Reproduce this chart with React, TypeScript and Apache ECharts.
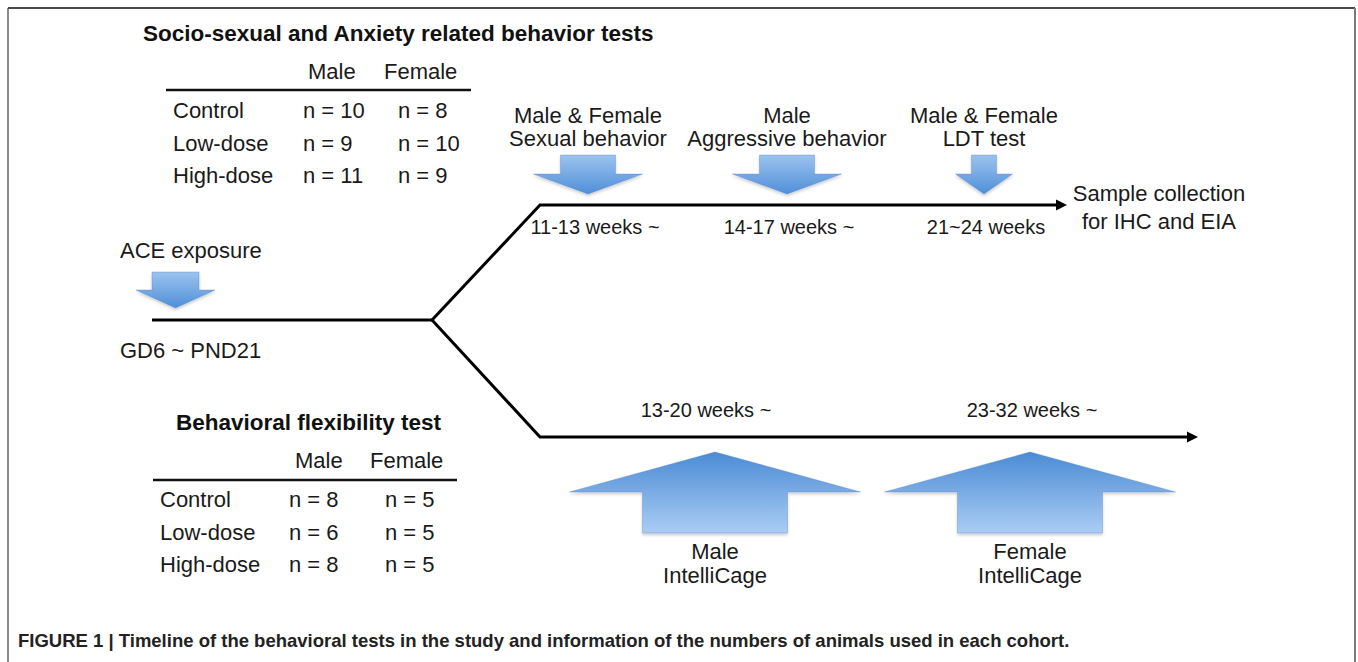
import React, { useEffect, useRef } from "react";
import * as echarts from "echarts";

// ---------- data ----------
const groups = ["Control", "Low-dose", "High-dose"];
const sexes = ["Male", "Female"];
const socioTitle = "Socio-sexual and Anxiety related behavior tests";
const socioMale = [10, 9, 11];
const socioFemale = [8, 10, 9];
const flexTitle = "Behavioral flexibility test";
const flexMale = [8, 6, 8];
const flexFemale = [5, 5, 5];

const upperEventLine1 = ["Male & Female", "Male", "Male & Female"];
const upperEventLine2 = ["Sexual behavior", "Aggressive behavior", "LDT test"];
const upperWeeks = ["11-13 weeks ~", "14-17 weeks ~", "21~24 weeks"];
const upperEnd = ["Sample collection", "for IHC and EIA"];

const lowerWeeks = ["13-20 weeks ~", "23-32 weeks ~"];
const lowerEventLine1 = ["Male", "Female"];
const lowerEventLine2 = ["IntelliCage", "IntelliCage"];

const exposureLabel = "ACE exposure";
const exposurePeriod = "GD6 ~ PND21";
const caption =
  "FIGURE 1 | Timeline of the behavioral tests in the study and information of the numbers of animals used in each cohort.";

// ---------- layout ----------
const FONT = "'Liberation Sans', Arial, Helvetica, sans-serif";
const TXT = "#1a1a1a";
const BODY = 22;
const TITLE = 22.5;
const WEEK = 20;

function txt(text: string, x: number, y: number, size: number, align = "center", bold = false, fill = TXT) {
  return {
    type: "text",
    x,
    y,
    silent: true,
    style: {
      text,
      font: `${bold ? "bold " : ""}${size}px ${FONT}`,
      fill,
      align,
      verticalAlign: "middle",
      textAlign: align,
      textVerticalAlign: "middle",
    },
  };
}

function downArrow(cx: number, top: number, base: number, tip: number, sh: number, hh: number) {
  return {
    type: "polygon",
    silent: true,
    shape: {
      points: [
        [cx - sh, top],
        [cx + sh, top],
        [cx + sh, base],
        [cx + hh, base],
        [cx, tip],
        [cx - hh, base],
        [cx - sh, base],
      ],
    },
    style: {
      fill: new echarts.graphic.LinearGradient(0, 0, 0, 1, [
        { offset: 0, color: "#9cc3ee" },
        { offset: 1, color: "#4f8fd8" },
      ]),
      stroke: "rgba(80,130,200,0.35)",
      lineWidth: 1,
      shadowBlur: 3,
      shadowColor: "rgba(0,0,0,0.2)",
      shadowOffsetY: 2,
    },
  };
}

function upArrow(cx: number, apex: number, base: number, bottom: number, sh: number, hh: number) {
  return {
    type: "polygon",
    silent: true,
    shape: {
      points: [
        [cx, apex],
        [cx + hh, base],
        [cx + sh, base],
        [cx + sh, bottom],
        [cx - sh, bottom],
        [cx - sh, base],
        [cx - hh, base],
      ],
    },
    style: {
      fill: new echarts.graphic.LinearGradient(0, 0, 0, 1, [
        { offset: 0, color: "#4b8bd5" },
        { offset: 1, color: "#aacdf4" },
      ]),
      stroke: "rgba(80,130,200,0.35)",
      lineWidth: 1,
      shadowBlur: 3,
      shadowColor: "rgba(0,0,0,0.2)",
      shadowOffsetY: 2,
    },
  };
}

function line(points: number[][], width = 3, color = "#000") {
  return {
    type: "polyline",
    silent: true,
    shape: { points },
    style: { stroke: color, lineWidth: width, fill: null },
  };
}

function arrowHead(tipX: number, y: number) {
  return {
    type: "polygon",
    silent: true,
    shape: { points: [[tipX, y], [tipX - 11, y - 5.5], [tipX - 11, y + 5.5]] },
    style: { fill: "#000" },
  };
}

function table(
  title: string,
  titleX: number,
  titleY: number,
  headY: number,
  maleHeadX: number,
  femaleHeadX: number,
  lineX0: number,
  lineX1: number,
  lineY: number,
  rowX: number,
  maleX: number,
  femaleX: number,
  rowYs: number[],
  male: number[],
  female: number[]
) {
  const els: any[] = [];
  els.push(txt(title, titleX, titleY, TITLE, "left", true, "#111"));
  els.push(txt(sexes[0], maleHeadX, headY, BODY, "left"));
  els.push(txt(sexes[1], femaleHeadX, headY, BODY, "left"));
  els.push(line([[lineX0, lineY], [lineX1, lineY]], 2.5, "#111"));
  groups.forEach((g, i) => {
    els.push(txt(g, rowX, rowYs[i], BODY, "left"));
    els.push(txt(`n = ${male[i]}`, maleX, rowYs[i], BODY, "left"));
    els.push(txt(`n = ${female[i]}`, femaleX, rowYs[i], BODY, "left"));
  });
  return els;
}

export default function App() {
  const ref = useRef<HTMLDivElement>(null);
  useEffect(() => {
    document.body.style.margin = "0";
    if (!ref.current) return;
    const chart = echarts.init(ref.current, null, { renderer: "svg" });

    const els: any[] = [];
    // frame
    els.push(line([[8, 662], [8, 8]], 2, "#8a8a8a"));
    els.push(line([[8, 8], [1355, 8]], 2, "#4a4a4a"));
    els.push(line([[1355, 8], [1355, 662]], 2, "#7a7a7a"));

    // tables
    els.push(
      ...table(socioTitle, 143, 33, 71, 308, 384, 166, 471, 90, 173, 303, 398, [110, 143, 175], socioMale, socioFemale)
    );
    els.push(
      ...table(flexTitle, 176, 422, 460, 295, 370, 153, 457, 480, 160, 289, 385, [499, 532, 564], flexMale, flexFemale)
    );

    // exposure
    els.push(txt(exposureLabel, 120, 250, BODY, "left"));
    els.push(downArrow(175.5, 272, 290, 308, 23.5, 39.5));
    els.push(txt(exposurePeriod, 120, 350, BODY, "left"));

    // timeline lines
    els.push(line([[152, 320], [432, 320]]));
    els.push(line([[432, 320], [540, 205], [1057, 205]]));
    els.push(arrowHead(1067, 205));
    els.push(line([[432, 320], [540, 437], [1188, 437]]));
    els.push(arrowHead(1198, 437));

    // upper events
    const upperX = [588, 787, 984];
    const upperSh = [27.5, 27.5, 12.5];
    const upperHh = [54.5, 54.5, 28.5];
    const weekX = [595, 789, 986];
    upperEventLine1.forEach((t, i) => {
      els.push(txt(t, upperX[i], 115, BODY));
      els.push(txt(upperEventLine2[i], upperX[i], 138, BODY));
      els.push(downArrow(upperX[i], 155, 174, 194, upperSh[i], upperHh[i]));
      els.push(txt(upperWeeks[i], weekX[i], 227, WEEK));
    });
    els.push(txt(upperEnd[0], 1159, 193, BODY));
    els.push(txt(upperEnd[1], 1159, 221, BODY));

    // lower events
    const lowerX = [715, 1030];
    const lowerWeekX = [706, 1032];
    lowerWeeks.forEach((w, i) => {
      els.push(txt(w, lowerWeekX[i], 410, WEEK));
      els.push(upArrow(lowerX[i], 452, 492, 533, 72.5, 145.5));
      els.push(txt(lowerEventLine1[i], lowerX[i], 551, BODY));
      els.push(txt(lowerEventLine2[i], lowerX[i], 575, BODY));
    });

    // caption
    els.push(txt(caption, 18, 640, 18.5, "left", true, "#222"));

    chart.setOption({ animation: false, graphic: { elements: els } });
    return () => chart.dispose();
  }, []);
  return <div ref={ref} style={{ width: 1358, height: 662 }} />;
}
